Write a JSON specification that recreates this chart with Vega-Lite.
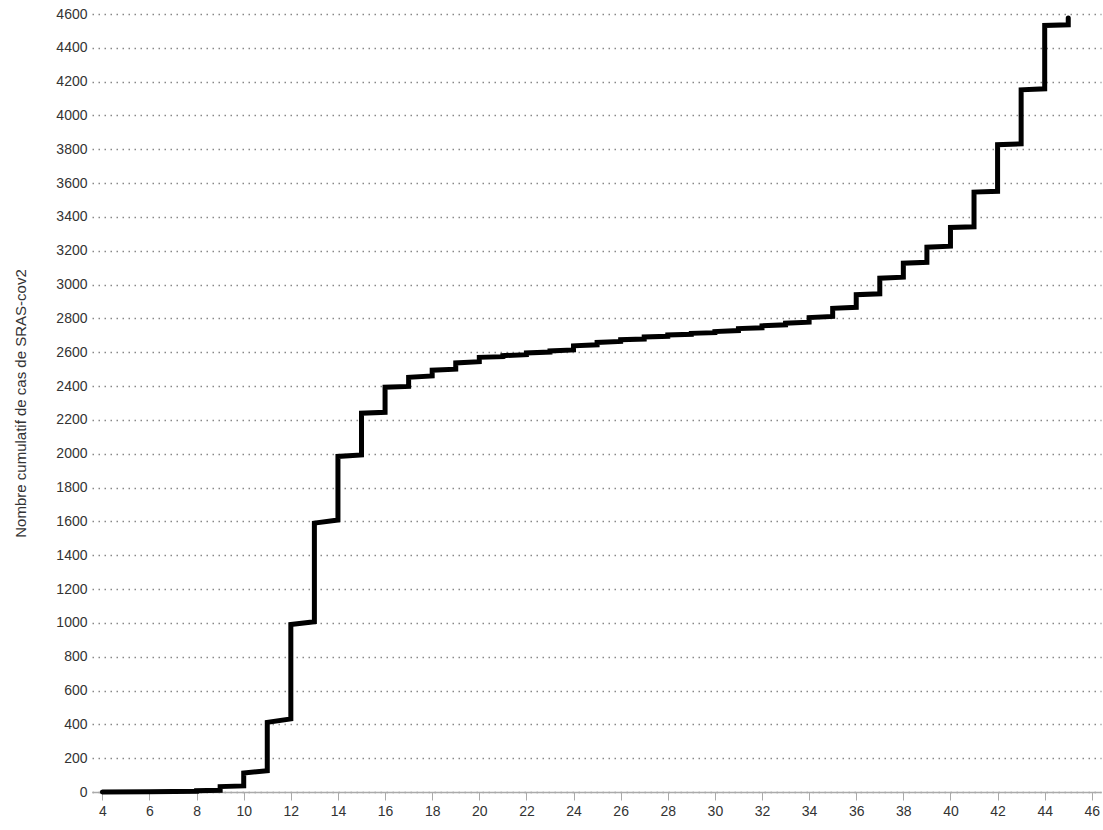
{
  "$schema": "https://vega.github.io/schema/vega-lite/v6.json",
  "width": 1009,
  "height": 778,
  "autosize": {"type": "none"},
  "padding": {"left": 92, "top": 14, "right": 2, "bottom": 38},
  "background": "white",
  "config": {"view": {"stroke": null}, "font": "Liberation Sans"},
  "data": {
    "values": [
      {"i": 1, "semaine": 4, "cumul": 0},
      {"i": 2, "semaine": 6, "cumul": 2},
      {"i": 3, "semaine": 8, "cumul": 5},
      {"i": 4, "semaine": 8, "cumul": 8},
      {"i": 5, "semaine": 9, "cumul": 10},
      {"i": 6, "semaine": 9, "cumul": 32},
      {"i": 7, "semaine": 10, "cumul": 36},
      {"i": 8, "semaine": 10, "cumul": 112},
      {"i": 9, "semaine": 11, "cumul": 126},
      {"i": 10, "semaine": 11, "cumul": 412},
      {"i": 11, "semaine": 12, "cumul": 432},
      {"i": 12, "semaine": 12, "cumul": 990},
      {"i": 13, "semaine": 13, "cumul": 1006},
      {"i": 14, "semaine": 13, "cumul": 1590},
      {"i": 15, "semaine": 14, "cumul": 1608},
      {"i": 16, "semaine": 14, "cumul": 1984},
      {"i": 17, "semaine": 15, "cumul": 1993},
      {"i": 18, "semaine": 15, "cumul": 2240},
      {"i": 19, "semaine": 16, "cumul": 2245},
      {"i": 20, "semaine": 16, "cumul": 2393},
      {"i": 21, "semaine": 17, "cumul": 2398},
      {"i": 22, "semaine": 17, "cumul": 2452},
      {"i": 23, "semaine": 18, "cumul": 2460},
      {"i": 24, "semaine": 18, "cumul": 2494},
      {"i": 25, "semaine": 19, "cumul": 2500},
      {"i": 26, "semaine": 19, "cumul": 2537},
      {"i": 27, "semaine": 20, "cumul": 2544},
      {"i": 28, "semaine": 20, "cumul": 2570},
      {"i": 29, "semaine": 21, "cumul": 2574},
      {"i": 30, "semaine": 21, "cumul": 2580},
      {"i": 31, "semaine": 22, "cumul": 2586},
      {"i": 32, "semaine": 22, "cumul": 2596},
      {"i": 33, "semaine": 23, "cumul": 2601},
      {"i": 34, "semaine": 23, "cumul": 2608},
      {"i": 35, "semaine": 24, "cumul": 2614},
      {"i": 36, "semaine": 24, "cumul": 2638},
      {"i": 37, "semaine": 25, "cumul": 2644},
      {"i": 38, "semaine": 25, "cumul": 2658},
      {"i": 39, "semaine": 26, "cumul": 2664},
      {"i": 40, "semaine": 26, "cumul": 2674},
      {"i": 41, "semaine": 27, "cumul": 2678},
      {"i": 42, "semaine": 27, "cumul": 2690},
      {"i": 43, "semaine": 28, "cumul": 2694},
      {"i": 44, "semaine": 28, "cumul": 2702},
      {"i": 45, "semaine": 29, "cumul": 2706},
      {"i": 46, "semaine": 29, "cumul": 2712},
      {"i": 47, "semaine": 30, "cumul": 2716},
      {"i": 48, "semaine": 30, "cumul": 2722},
      {"i": 49, "semaine": 31, "cumul": 2728},
      {"i": 50, "semaine": 31, "cumul": 2740},
      {"i": 51, "semaine": 32, "cumul": 2745},
      {"i": 52, "semaine": 32, "cumul": 2756},
      {"i": 53, "semaine": 33, "cumul": 2762},
      {"i": 54, "semaine": 33, "cumul": 2772},
      {"i": 55, "semaine": 34, "cumul": 2778},
      {"i": 56, "semaine": 34, "cumul": 2805},
      {"i": 57, "semaine": 35, "cumul": 2812},
      {"i": 58, "semaine": 35, "cumul": 2860},
      {"i": 59, "semaine": 36, "cumul": 2866},
      {"i": 60, "semaine": 36, "cumul": 2940},
      {"i": 61, "semaine": 37, "cumul": 2946},
      {"i": 62, "semaine": 37, "cumul": 3038},
      {"i": 63, "semaine": 38, "cumul": 3044},
      {"i": 64, "semaine": 38, "cumul": 3127},
      {"i": 65, "semaine": 39, "cumul": 3132},
      {"i": 66, "semaine": 39, "cumul": 3221},
      {"i": 67, "semaine": 40, "cumul": 3227},
      {"i": 68, "semaine": 40, "cumul": 3338},
      {"i": 69, "semaine": 41, "cumul": 3342},
      {"i": 70, "semaine": 41, "cumul": 3547},
      {"i": 71, "semaine": 42, "cumul": 3552},
      {"i": 72, "semaine": 42, "cumul": 3827},
      {"i": 73, "semaine": 43, "cumul": 3832},
      {"i": 74, "semaine": 43, "cumul": 4152},
      {"i": 75, "semaine": 44, "cumul": 4158},
      {"i": 76, "semaine": 44, "cumul": 4532},
      {"i": 77, "semaine": 45, "cumul": 4536},
      {"i": 78, "semaine": 45, "cumul": 4577}
    ]
  },
  "mark": {
    "type": "line",
    "color": "black",
    "strokeWidth": 5,
    "strokeCap": "round",
    "strokeJoin": "miter",
    "clip": false
  },
  "encoding": {
    "x": {
      "field": "semaine",
      "type": "quantitative",
      "scale": {"domain": [3.56, 46.39], "nice": false, "zero": false},
      "axis": {
        "title": null,
        "values": [4, 6, 8, 10, 12, 14, 16, 18, 20, 22, 24, 26, 28, 30, 32, 34, 36, 38, 40, 42, 44, 46],
        "grid": false,
        "domainColor": "#aaaaaa",
        "domainWidth": 1.5,
        "tickColor": "#aaaaaa",
        "tickWidth": 1,
        "tickSize": 8,
        "labelPadding": 4,
        "labelFontSize": 14,
        "labelColor": "#333333",
        "labelFlush": false
      }
    },
    "y": {
      "field": "cumul",
      "type": "quantitative",
      "scale": {"domain": [0, 4600], "nice": false},
      "axis": {
        "title": "Nombre cumulatif de cas de SRAS-cov2",
        "titleFontSize": 15,
        "titleFontWeight": "normal",
        "titleColor": "#333333",
        "titleX": -64,
        "titleBaseline": "bottom",
        "values": [0, 200, 400, 600, 800, 1000, 1200, 1400, 1600, 1800, 2000, 2200, 2400, 2600, 2800, 3000, 3200, 3400, 3600, 3800, 4000, 4200, 4400, 4600],
        "format": "d",
        "domain": false,
        "ticks": false,
        "labelPadding": 5,
        "labelFontSize": 14,
        "labelColor": "#333333",
        "labelFlush": false,
        "grid": true,
        "gridColor": "#888888",
        "gridDash": [1.5, 4.5],
        "gridWidth": 1.5
      }
    },
    "order": {"field": "i", "type": "quantitative"}
  }
}
